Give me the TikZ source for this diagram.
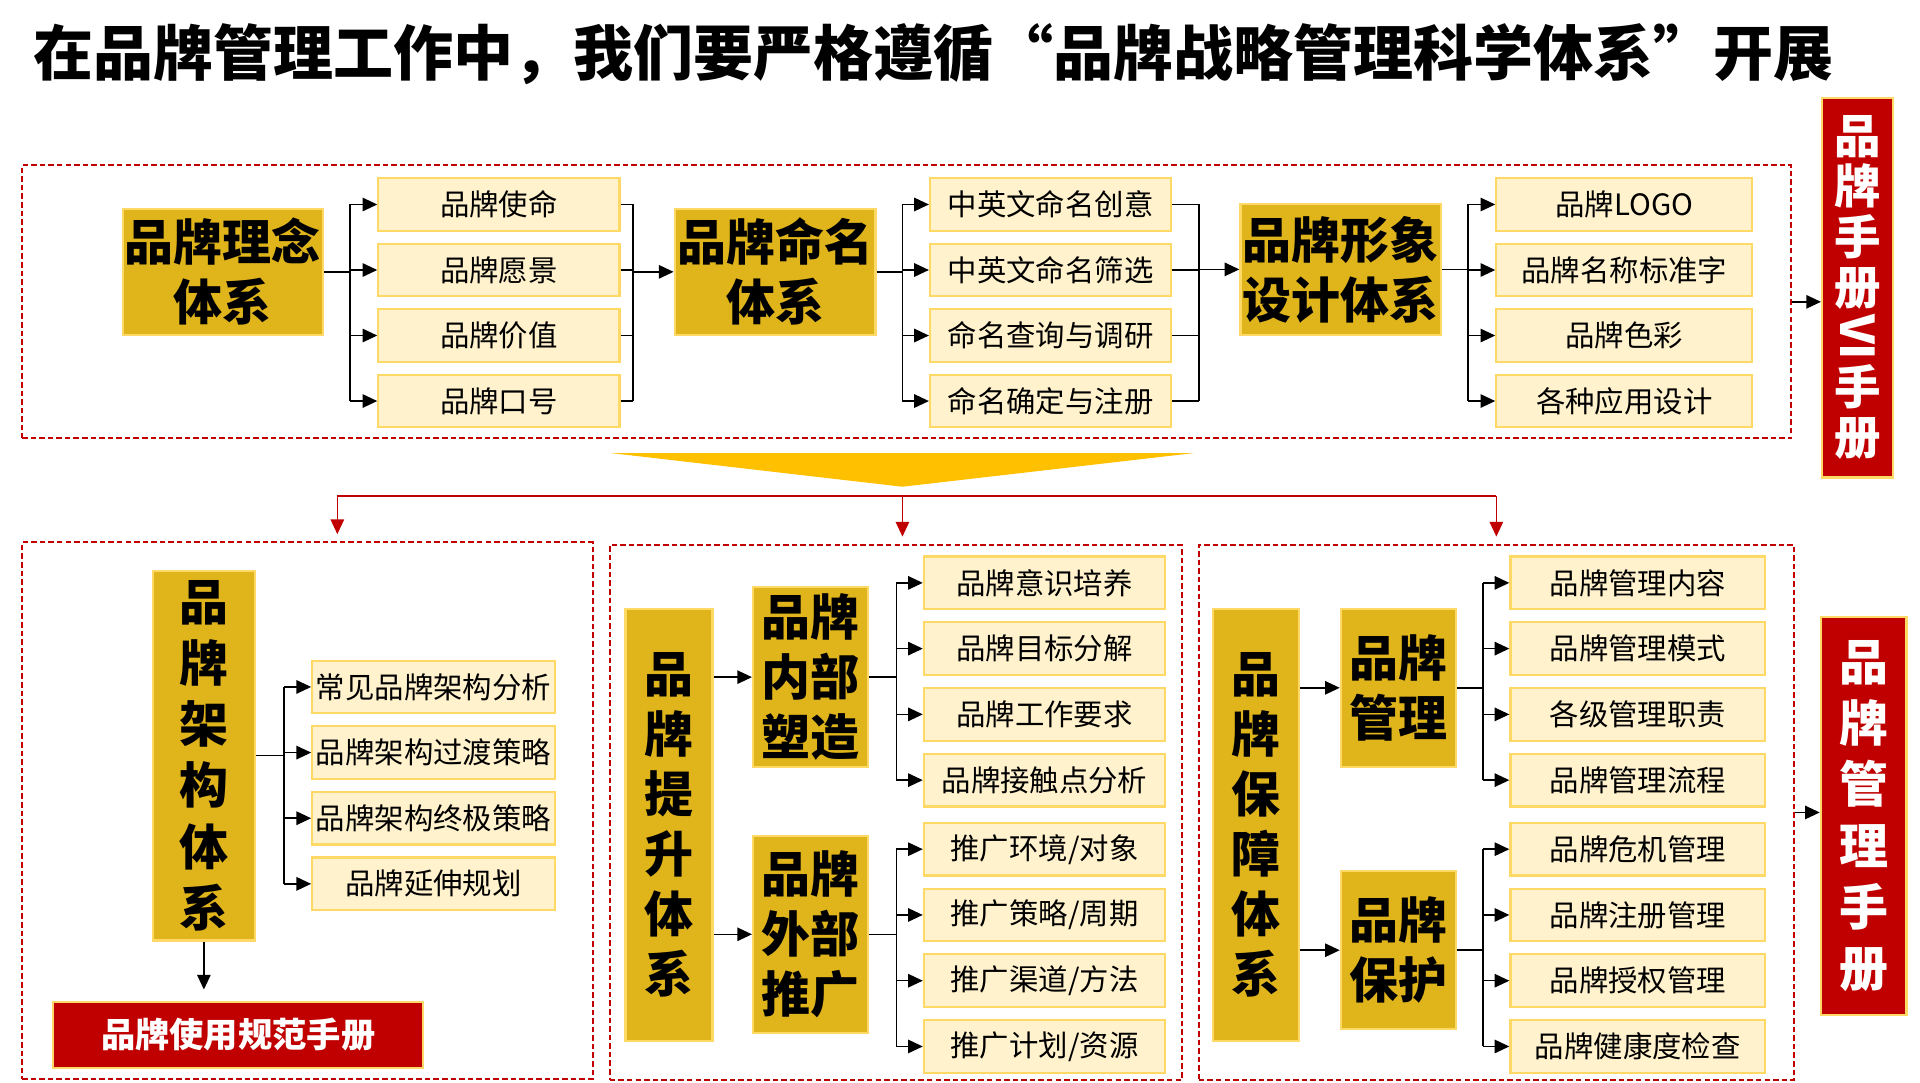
\documentclass[tikz,border=0pt]{standalone}
\usepackage{fontspec}
\setmainfont{Noto Sans CJK SC}
\newfontfamily\headfont[RawFeature=+fwid]{Noto Sans CJK SC}
\usepackage{xcolor}
\usepackage{tikz}
\usetikzlibrary{arrows.meta}
\definecolor{gold}{HTML}{E0B41B}
\definecolor{lgold}{HTML}{FFD966}
\definecolor{cream}{HTML}{FFF2CC}
\definecolor{dred}{HTML}{C00000}
\definecolor{funnel}{HTML}{FFC000}

\begin{document}
\begin{tikzpicture}[x=1pt, y=-1pt,
    hub/.style={draw=lgold, fill=gold, line width=1.8pt, inner sep=0pt, align=center,
      font=\bfseries\fontsize{40}{49}\selectfont},
    item/.style={draw=lgold, fill=cream, line width=1.8pt, inner sep=0pt,
      minimum height=43pt, font=\fontsize{24}{28}\selectfont},
    manual/.style={draw=lgold, fill=dred, line width=1.8pt, inner sep=0pt, align=center,
      text=white, font=\bfseries\fontsize{38}{41}\selectfont},
    zone/.style={draw=dred, line width=1.6pt, dash pattern=on 4.5pt off 2.5pt, inner sep=0pt},
    link/.style={line width=1.2pt},
    tip/.style={-{Triangle[length=12pt,width=11pt]}},
    redlink/.style={draw=dred, line width=1pt, -{Triangle[length=12pt,width=11pt]}}]
    \useasboundingbox (0,0) rectangle (1568,884);

    \node[font=\headfont\bfseries\fontsize{49}{49}\selectfont] (title) at (762,44)
      {在品牌管理工作中，我们要严格遵循“品牌战略管理科学体系”开展};

    % dashed frames
    \node[zone, minimum width=1445pt, minimum height=223pt] (top) at (740.5,246.5) {};
    \node[zone, minimum width=466pt, minimum height=438pt] (lzone) at (251,662) {};
    \node[zone, minimum width=467pt, minimum height=437pt] (mzone) at (731.5,663.5) {};
    \node[zone, minimum width=486pt, minimum height=437pt] (rzone) at (1222,663.5) {};

    % upper row
    \node[hub, minimum width=163pt, minimum height=103pt] (idea) at (182,222) {品牌理念\\体系};
    \node[hub, minimum width=164pt, minimum height=103pt] (naming) at (633,222) {品牌命名\\体系};
    \node[hub, minimum width=164pt, minimum height=107pt] (image) at (1095,220) {品牌形象\\设计体系};
    \foreach \t [count=\i] in {品牌使命,品牌愿景,品牌价值,品牌口号}
      \node[item, minimum width=197pt] (a\i) at (407.5,{113.5+53.5*\i}) {\t};
    \foreach \t [count=\i] in {中英文命名创意,中英文命名筛选,命名查询与调研,命名确定与注册}
      \node[item, minimum width=197pt] (b\i) at (858,{113.5+53.5*\i}) {\t};
    \foreach \t [count=\i] in {品牌LOGO,品牌名称标准字,品牌色彩,各种应用设计}
      \node[item, minimum width=209pt] (c\i) at (1326.5,{113.5+53.5*\i}) {\t};
    \node[manual, minimum width=58pt, minimum height=310pt] (vi) at (1517,235)
      {品\\牌\\手\\册\\\rotatebox[origin=c]{-90}{VI}\\手\\册};

    % lower left
    \node[hub, minimum width=83pt, minimum height=302pt, font=\bfseries\fontsize{40}{50}\selectfont] (arch) at (166.5,617) {品\\牌\\架\\构\\体\\系};
    \foreach \t [count=\i] in {常见品牌架构分析,品牌架构过渡策略,品牌架构终极策略,品牌延伸规划}
      \node[item, minimum width=198pt] (d\i) at (354,{507.4+53.6*\i}) {\t};
    \node[manual, minimum width=302pt, minimum height=54pt, font=\bfseries\fontsize{28}{28}\selectfont] (usage) at (194.5,845) {品牌使用规范手册};

    % lower middle
    \node[hub, minimum width=71pt, minimum height=353pt] (lift) at (546.3,673.7) {品\\牌\\提\\升\\体\\系};
    \node[hub, minimum width=94pt, minimum height=147pt] (inner) at (662,553) {品牌\\内部\\塑造};
    \node[hub, minimum width=94pt, minimum height=161pt] (outer) at (662,763) {品牌\\外部\\推广};
    \foreach \t [count=\i] in {品牌意识培养,品牌目标分解,品牌工作要求,品牌接触点分析}
      \node[item, minimum width=197pt] (e\i) at (853,{422.3+53.7*\i}) {\t};
    \foreach \t [count=\i] in {推广环境/对象,推广策略/周期,推广渠道/方法,推广计划/资源}
      \node[item, minimum width=197pt] (f\i) at (853,{639.8+53.7*\i}) {\t};

    % lower right
    \node[hub, minimum width=70pt, minimum height=353pt] (guard) at (1025.7,673.7) {品\\牌\\保\\障\\体\\系};
    \node[hub, minimum width=94pt, minimum height=129pt] (manage) at (1142,561.7) {品牌\\管理};
    \node[hub, minimum width=94pt, minimum height=129pt] (protect) at (1142,776) {品牌\\保护};
    \foreach \t [count=\i] in {品牌管理内容,品牌管理模式,各级管理职责,品牌管理流程}
      \node[item, minimum width=208pt] (g\i) at (1337.5,{422.3+53.7*\i}) {\t};
    \foreach \t [count=\i] in {品牌危机管理,品牌注册管理,品牌授权管理,品牌健康度检查}
      \node[item, minimum width=208pt] (h\i) at (1337.5,{639.8+53.7*\i}) {\t};
    \node[manual, minimum width=70pt, minimum height=325pt, font=\bfseries\fontsize{40}{50}\selectfont] (mgmt) at (1522,666.4) {品\\牌\\管\\理\\手\\册};

    % brackets
    \coordinate (ja) at (286,0);  \coordinate (ka) at (517,0);
    \coordinate (jb) at (737,0);  \coordinate (kb) at (979,0);
    \coordinate (jc) at (1199,0); \coordinate (jd) at (232,0);
    \coordinate (jm) at (732,0);  \coordinate (jr) at (1211,0);
    \foreach \h/\s/\j in {idea/a/ja, naming/b/jb, image/c/jc, arch/d/jd,
                          inner/e/jm, outer/f/jm, manage/g/jr, protect/h/jr} {
      \draw[link] (\h.east) -- (\h -| \j);
      \draw[link] (\s1 -| \j) -- (\s4 -| \j);
      \foreach \i in {1,...,4} \draw[link,tip] (\s\i -| \j) -- (\s\i.west);
    }
    \foreach \s/\k/\h in {a/ka/naming, b/kb/image} {
      \foreach \i in {1,...,4} \draw[link] (\s\i.east) -- (\s\i -| \k);
      \draw[link] (\s1 -| \k) -- (\s4 -| \k);
      \draw[link,tip] (\h -| \k) -- (\h.west);
    }
    \draw[link,tip] (lift.east |- inner) -- (inner.west);
    \draw[link,tip] (lift.east |- outer) -- (outer.west);
    \draw[link,tip] (guard.east |- manage) -- (manage.west);
    \draw[link,tip] (guard.east |- protect) -- (protect.west);
    \draw[link,tip,shorten >=9pt] (arch.south) -- (arch.south |- usage.north);
    \draw[link,tip] (top.east) -- (top.east -| vi.west);
    \draw[link,tip] (rzone.east) -- (rzone.east -| mgmt.west);

    % funnel and split
    \fill[funnel] (499,370) -- (975,370) -- (737,397.5) -- cycle;
    \coordinate (fl) at (275.5,405);
    \coordinate (fm) at (737,405);
    \coordinate (fr) at (1222,405);
    \draw[dred, line width=1.4pt] (fl) -- (fr);
    \foreach \c/\z in {fl/lzone, fm/mzone, fr/rzone}
      \draw[redlink, shorten >=6pt] (\c) -- (\c |- \z.north);
\end{tikzpicture}
\end{document}
